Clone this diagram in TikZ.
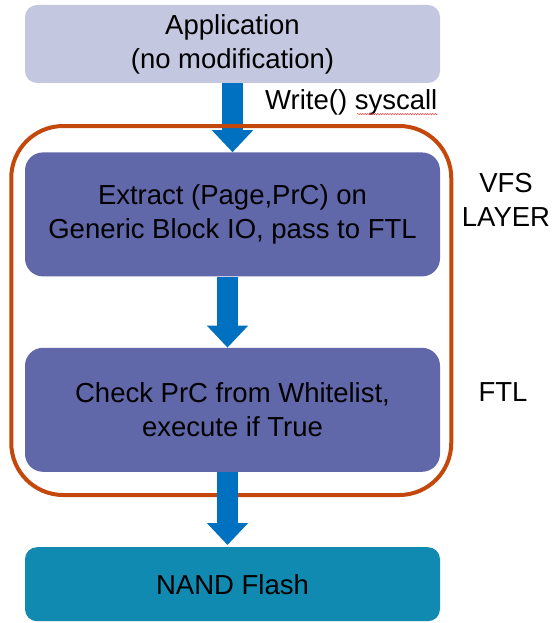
\documentclass[tikz,border=0pt]{standalone}
\usepackage{fontspec}
\setmainfont{Liberation Sans}
\usepackage{xcolor}
\usetikzlibrary{arrows.meta, positioning, decorations.pathmorphing}

\definecolor{appfill}{HTML}{C3C7E0}
\definecolor{layerfill}{HTML}{6068AA}
\definecolor{flashfill}{HTML}{118AB2}
\definecolor{flowblue}{HTML}{0070C0}
\definecolor{frameorange}{HTML}{C4480C}

\begin{document}
\begin{tikzpicture}[
  font=\fontsize{27.5}{34}\selectfont,
  align=center,
  box/.style={rectangle, rounded corners=12pt, minimum width=415pt,
              inner sep=0pt},
  app/.style={box, fill=appfill, minimum height=78pt},
  layer/.style={box, fill=layerfill, rounded corners=18pt,
                minimum height=124pt},
  flash/.style={box, fill=flashfill, minimum height=74pt},
  frame/.style={rectangle, draw=frameorange, line width=4pt,
                rounded corners=52pt, minimum width=440pt,
                minimum height=369pt, inner sep=0pt},
  flow/.style={draw=flowblue, line width=21pt,
               -{Triangle[length=22pt, width=40pt, fill=flowblue]}},
  tag/.style={inner sep=0pt},
]
\useasboundingbox (0,0) rectangle (556pt,-623pt);

% Stack of layers
\node[app] (app) at (232.5pt,-44pt) {Application\\(no modification)};
\node[layer, below=69pt of app] (extract)
  {Extract (Page,PrC) on\\Generic Block IO, pass to FTL};
\node[layer, below=71pt of extract] (check)
  {Check PrC from Whitelist,\\execute if True};
\node[flash, below=75pt of check] (nand) {NAND Flash};

% Flow arrows (the first one runs under the frame)
\draw[flow] (app.south) -- (extract.north);
\draw[flow] ([xshift=-5pt]extract.south) -- ([xshift=-5pt]check.north);

% Kernel frame
\node[frame] (kernel) at (231.25pt,-310.5pt) {};

\draw[flow] ([xshift=-5pt]check.south) -- ([xshift=-5pt, yshift=2pt]nand.north);

% Side labels
\node[tag, anchor=west] (syscall) at (265pt,-102pt) {Write() syscall};
\draw[red!80, line width=0.5pt, decorate,
      decoration={snake, amplitude=0.6pt, segment length=2.5pt}]
  ([xshift=92pt, yshift=1pt]syscall.south west) -- ([yshift=1pt]syscall.south east);
\node[tag] (vfs) at (506pt,-200pt) {VFS\\LAYER};
\node[tag] (ftl) at (503pt,-392pt) {FTL};

\end{tikzpicture}
\end{document}
